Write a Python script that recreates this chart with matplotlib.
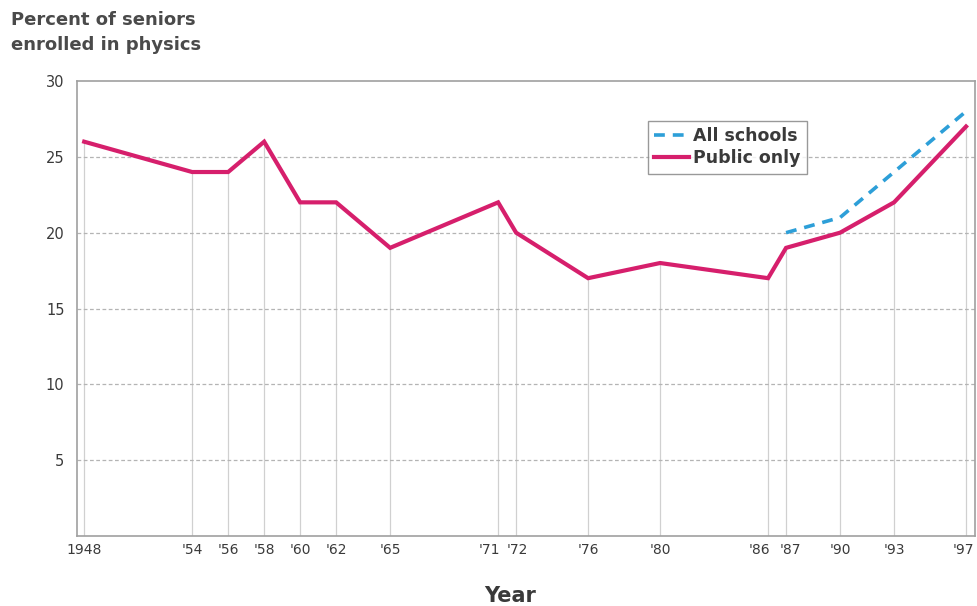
import matplotlib.pyplot as plt
import matplotlib.transforms as mtransforms

# Data
years = [1948, 1954, 1956, 1958, 1960, 1962, 1965, 1971, 1972, 1976, 1980, 1986, 1987, 1990, 1993, 1997]
tick_labels = ['1948', "'54", "'56", "'58", "'60", "'62", "'65", "'71", "'72", "'76", "'80",
               "'86", "'87", "'90", "'93", "'97"]
public_only = [26, 24, 24, 26, 22, 22, 19, 22, 20, 17, 18, 17, 19, 20, 22, 27]
all_years = [1987, 1990, 1993, 1997]
all_schools = [20, 21, 24, 28]

PINK = '#d61f6c'
BLUE = '#2d9fd8'
GRAY = '#b4b4b4'
TEXT = '#3a3a3a'

fig = plt.figure(figsize=(9.77, 6.06), dpi=100)
ax = fig.add_axes([0.0788, 0.1155, 0.9192, 0.7508])

# drop lines from each point to the axis
ax.vlines(years, 0, public_only, color='#d0d0d0', lw=0.9, zorder=1)

for y in [5, 10, 15, 20, 25]:
    ax.axhline(y, color=GRAY, lw=0.9, ls=(0, (3, 2)), zorder=1)

ax.plot(all_years, all_schools, color=BLUE, lw=2.6, ls=(0, (3, 2.2)), label='All schools', zorder=3)
ax.plot(years, public_only, color=PINK, lw=3.0, label='Public only', zorder=4,
        solid_joinstyle='miter')

ax.set_xlim(1947.6, 1997.5)
ax.set_ylim(0, 30)
ax.set_xticks(years)
ax.set_xticklabels(tick_labels, fontsize=10, color=TEXT)
ax.set_yticks([5, 10, 15, 20, 25, 30])
ax.set_yticklabels(['5', '10', '15', '20', '25', '30'], fontsize=10.5, color=TEXT)
ax.tick_params(axis='x', length=0, pad=5)
ax.tick_params(axis='y', length=0, pad=9)

# nudge the crowded pairs apart like the original
nudge = {"'71": -9, "'72": 1, "'86": -9, "'87": 4, "'97": -3}
for lab in ax.get_xticklabels():
    dx = nudge.get(lab.get_text(), 0)
    if dx:
        lab.set_transform(lab.get_transform() + mtransforms.ScaledTranslation(dx / 100, 0, fig.dpi_scale_trans))

for s in ax.spines.values():
    s.set_color('#a0a0a0')
    s.set_linewidth(1.2)

leg = ax.legend(loc='upper left', bbox_to_anchor=(0.636, 0.912), frameon=True, fancybox=False,
                fontsize=12.5, handlelength=2.0, borderpad=0.35, labelspacing=0.25,
                handletextpad=0.25, borderaxespad=0)
leg.get_frame().set_edgecolor('#808080')
leg.get_frame().set_linewidth(1.0)
for t in leg.get_texts():
    t.set_fontweight('bold')
    t.set_color(TEXT)

fig.text(0.011, 0.982, 'Percent of seniors\nenrolled in physics', ha='left', va='top',
         fontsize=13, fontweight='bold', color='#4a4a4a', linespacing=1.5)
fig.text(0.522, 0.016, 'Year', ha='center', va='center', fontsize=15, fontweight='bold', color=TEXT)

fig.savefig('out.png', dpi=100)
